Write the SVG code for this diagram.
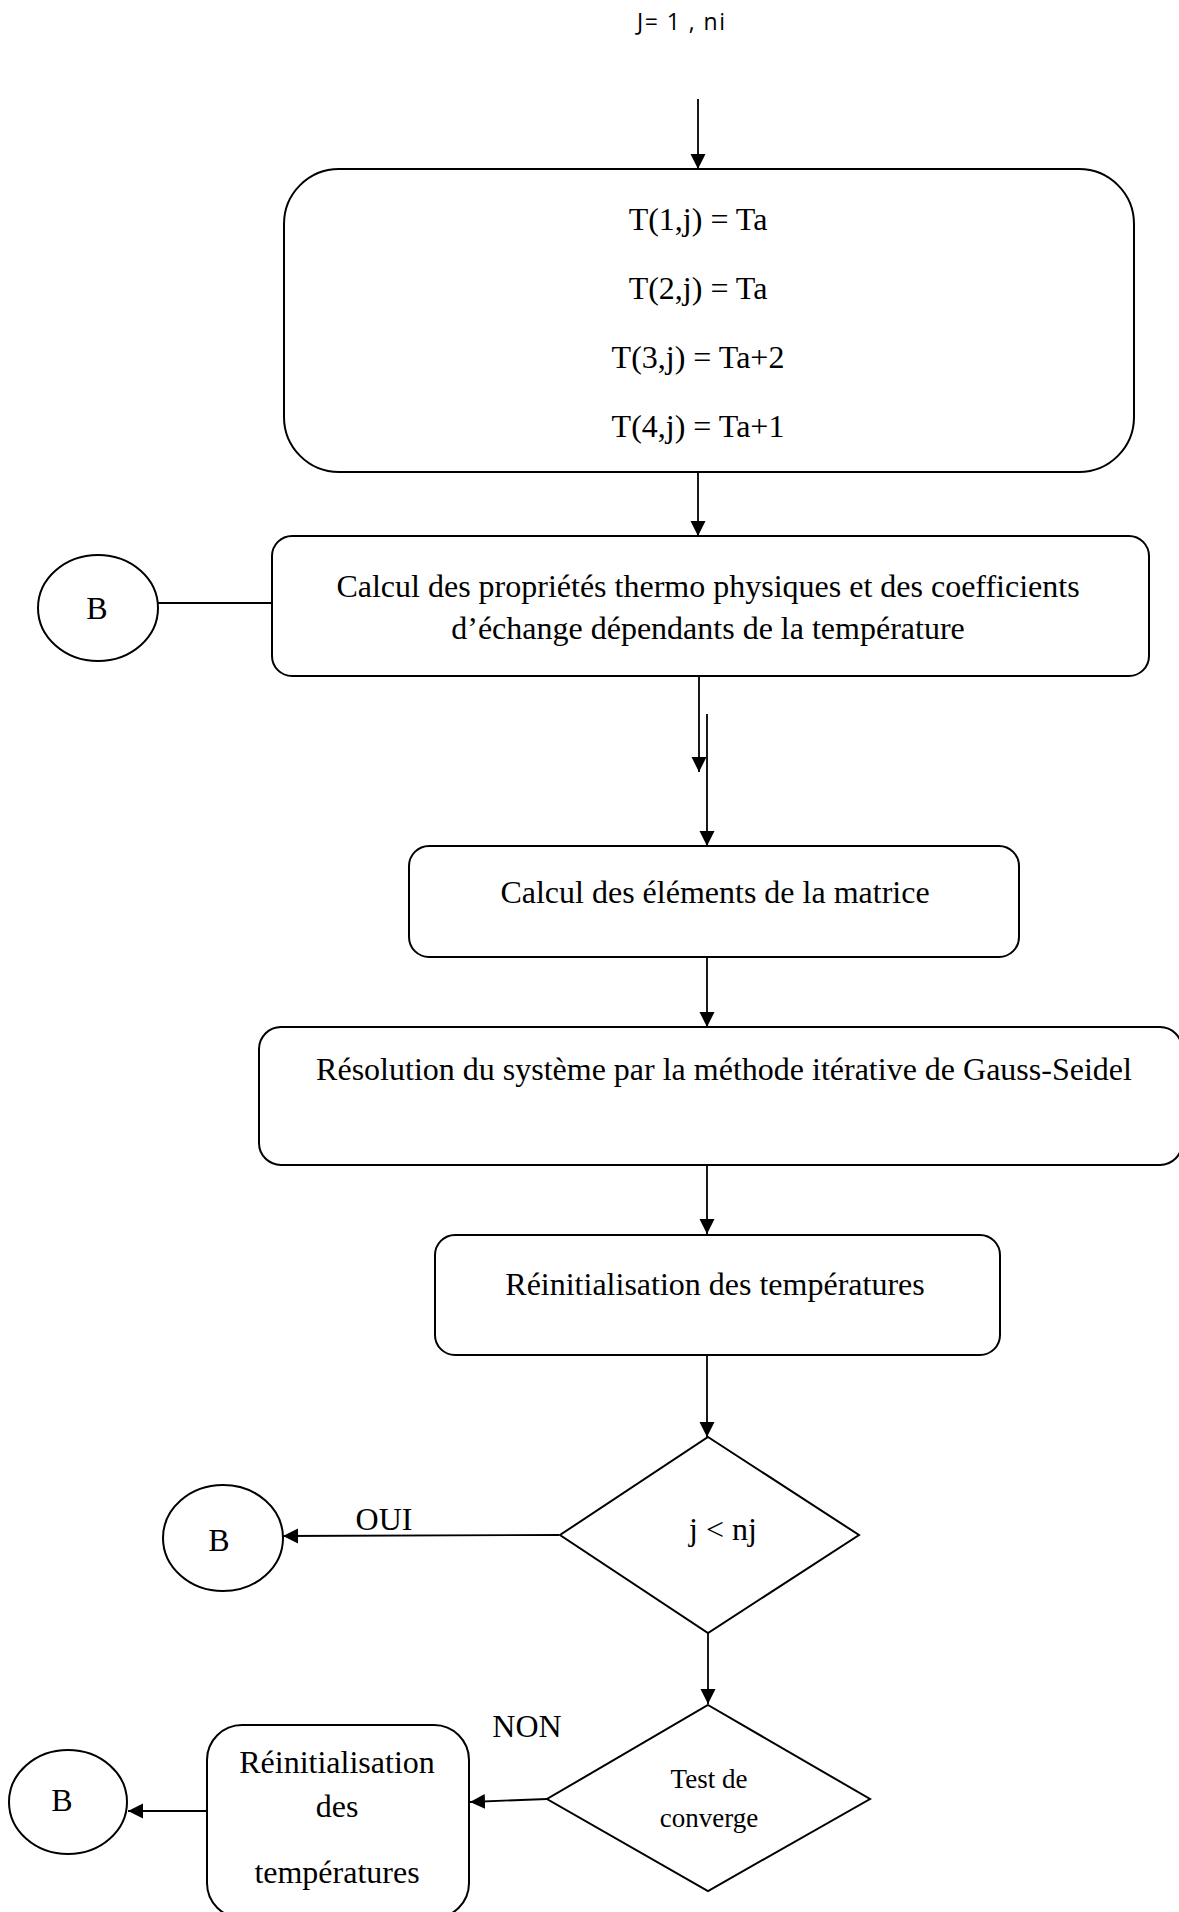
<svg xmlns="http://www.w3.org/2000/svg" width="1179" height="1912" viewBox="0 0 1179 1912">
<defs>
<style>
.box{fill:#fff;stroke:#000;stroke-width:2}
.t{font-family:"Liberation Serif","Times New Roman",serif;font-size:32px;fill:#000;text-anchor:middle}
.s{font-size:27px}
.c{stroke:#000;stroke-width:1.8;fill:none}
.title{font-family:"Open Sans","Liberation Sans",sans-serif;font-size:23px;fill:#000;text-anchor:middle}
</style>
<marker id="ah" markerUnits="userSpaceOnUse" markerWidth="16" markerHeight="16" viewBox="0 0 16 16" refX="15" refY="8" orient="auto">
<path d="M0,0.5 L15,8 L0,15.5 Z" fill="#000"/>
</marker>
</defs>
<rect width="1179" height="1912" fill="#fff"/>
<text class="title" x="681" y="30" textLength="88" lengthAdjust="spacing">J= 1 , ni</text>
<g id="connectors">
<line class="c" x1="698" y1="99" x2="698" y2="169" marker-end="url(#ah)"/>
<line class="c" x1="698" y1="472" x2="698" y2="536" marker-end="url(#ah)"/>
<line class="c" x1="699" y1="676" x2="699" y2="772" marker-end="url(#ah)"/>
<line class="c" x1="707" y1="714" x2="707" y2="846" marker-end="url(#ah)"/>
<line class="c" x1="707" y1="957" x2="707" y2="1027" marker-end="url(#ah)"/>
<line class="c" x1="707" y1="1166" x2="707" y2="1234" marker-end="url(#ah)"/>
<line class="c" x1="707" y1="1355" x2="707" y2="1437" marker-end="url(#ah)"/>
<line class="c" x1="708" y1="1633" x2="708" y2="1704" marker-end="url(#ah)"/>
<line class="c" x1="158" y1="603" x2="272" y2="603"/>
<line class="c" x1="559" y1="1535" x2="283" y2="1536" stroke-width="2.6" marker-end="url(#ah)"/>
<line class="c" x1="547" y1="1799" x2="470" y2="1802" marker-end="url(#ah)"/>
<line class="c" x1="207" y1="1811" x2="128" y2="1811" marker-end="url(#ah)"/>
</g>
<g id="init">
<rect class="box" x="284" y="169" width="850" height="303" rx="55" ry="55"/>
<text class="t" x="698" y="230">T(1,j) = Ta</text>
<text class="t" x="698" y="299">T(2,j) = Ta</text>
<text class="t" x="698" y="368">T(3,j) = Ta+2</text>
<text class="t" x="698" y="437">T(4,j) = Ta+1</text>
</g>
<g id="calcprop">
<rect class="box" x="272" y="536" width="877" height="140" rx="20" ry="20"/>
<text class="t" x="708" y="597">Calcul des propriétés thermo physiques et des coefficients</text>
<text class="t" x="708" y="639">d’échange dépendants de la température</text>
</g>
<g id="b1">
<ellipse class="box" cx="98" cy="608" rx="60" ry="53"/>
<text class="t" x="97" y="619">B</text>
</g>
<g id="matrice">
<rect class="box" x="409" y="846" width="610" height="111" rx="20" ry="20"/>
<text class="t" x="715" y="903">Calcul des éléments de la matrice</text>
</g>
<g id="gauss">
<rect class="box" x="259" y="1027" width="923" height="138" rx="22" ry="22"/>
<text class="t" x="724" y="1080">Résolution du système par la méthode itérative de Gauss-Seidel</text>
</g>
<g id="reinit1">
<rect class="box" x="435" y="1235" width="565" height="120" rx="20" ry="20"/>
<text class="t" x="715" y="1295">Réinitialisation des températures</text>
</g>
<g id="test-j">
<polygon class="box" points="708,1437 859,1535 708,1633 560,1535"/>
<text class="t" x="723" y="1540">j &lt; nj</text>
</g>
<g id="b2">
<ellipse class="box" cx="223" cy="1538" rx="60" ry="53"/>
<text class="t" x="219" y="1551">B</text>
</g>
<text class="t" x="384" y="1530">OUI</text>
<g id="test-conv">
<polygon class="box" points="708,1705 870,1799 708,1891 547,1799"/>
<text class="t s" x="709" y="1788">Test de</text>
<text class="t s" x="709" y="1827">converge</text>
</g>
<text class="t" x="527" y="1737">NON</text>
<g id="reinit2">
<rect class="box" x="207" y="1725" width="262" height="193" rx="35" ry="35"/>
<text class="t" x="337" y="1773">Réinitialisation</text>
<text class="t" x="337" y="1817">des</text>
<text class="t" x="337" y="1883">températures</text>
</g>
<g id="b3">
<ellipse class="box" cx="68" cy="1802" rx="59" ry="52"/>
<text class="t" x="62" y="1811">B</text>
</g>
</svg>
